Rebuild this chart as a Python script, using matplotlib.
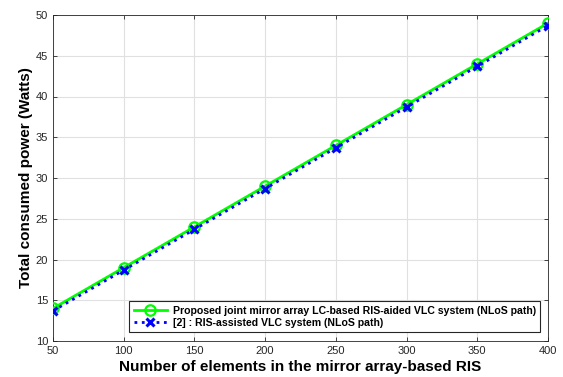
import matplotlib
matplotlib.use("Agg")
import matplotlib.pyplot as plt

plt.rcParams['font.family'] = ['Liberation Sans', 'DejaVu Sans']

n_elements = [50, 100, 150, 200, 250, 300, 350, 400]
power_proposed = [14.0, 19.0, 24.0, 29.0, 34.0, 39.0, 44.0, 49.0]
power_ref2 = [13.7, 18.7, 23.7, 28.7, 33.7, 38.7, 43.7, 48.7]
x_ticks = [50, 100, 150, 200, 250, 300, 350, 400]
y_ticks = [10, 15, 20, 25, 30, 35, 40, 45, 50]
label_proposed = 'Proposed joint mirror array LC-based RIS-aided VLC system (NLoS path)'
label_ref2 = '[2] : RIS-assisted VLC system (NLoS path)'

fig = plt.figure(figsize=(5.63, 3.77), dpi=100)
ax = fig.add_axes([53/563, 1-341/377, (548-53)/563, (341-15)/377])

ax.plot(n_elements, power_proposed, '-', color='#00ff00', lw=2.0, marker='o',
        ms=7.5, mfc='none', mew=1.6, label=label_proposed, zorder=3)
ax.plot(n_elements, power_ref2, ':', color='#0000ff', lw=2.0, marker='x',
        ms=6, mew=2.2, label=label_ref2, zorder=4)

ax.set_xlim(50, 400)
ax.set_ylim(10, 50)
ax.set_xticks(x_ticks)
ax.set_yticks(y_ticks)
ax.grid(True, color='#e0e0e0', lw=0.8)
ax.set_axisbelow(True)
ax.tick_params(direction='in', top=True, right=True, length=3, width=0.6,
               colors='#262626', labelsize=8, labelcolor='#262626')
for s in ax.spines.values():
    s.set_color('#262626')
    s.set_linewidth(0.6)

ax.set_xlabel('Number of elements in the mirror array-based RIS', fontsize=11,
              fontweight='bold', labelpad=3)
ax.set_ylabel('Total consumed power (Watts)', fontsize=11, fontweight='bold',
              labelpad=2)

leg = ax.legend(loc='lower right', bbox_to_anchor=(1-8/495, 9/326),
                prop={'weight': 'bold', 'size': 7.6}, frameon=True, fancybox=False,
                edgecolor='#262626', framealpha=1, borderpad=0.4, labelspacing=0.2,
                handlelength=3.2, handletextpad=0.5, borderaxespad=0)
leg.get_frame().set_linewidth(0.8)

fig.savefig('out.png', dpi=100)
